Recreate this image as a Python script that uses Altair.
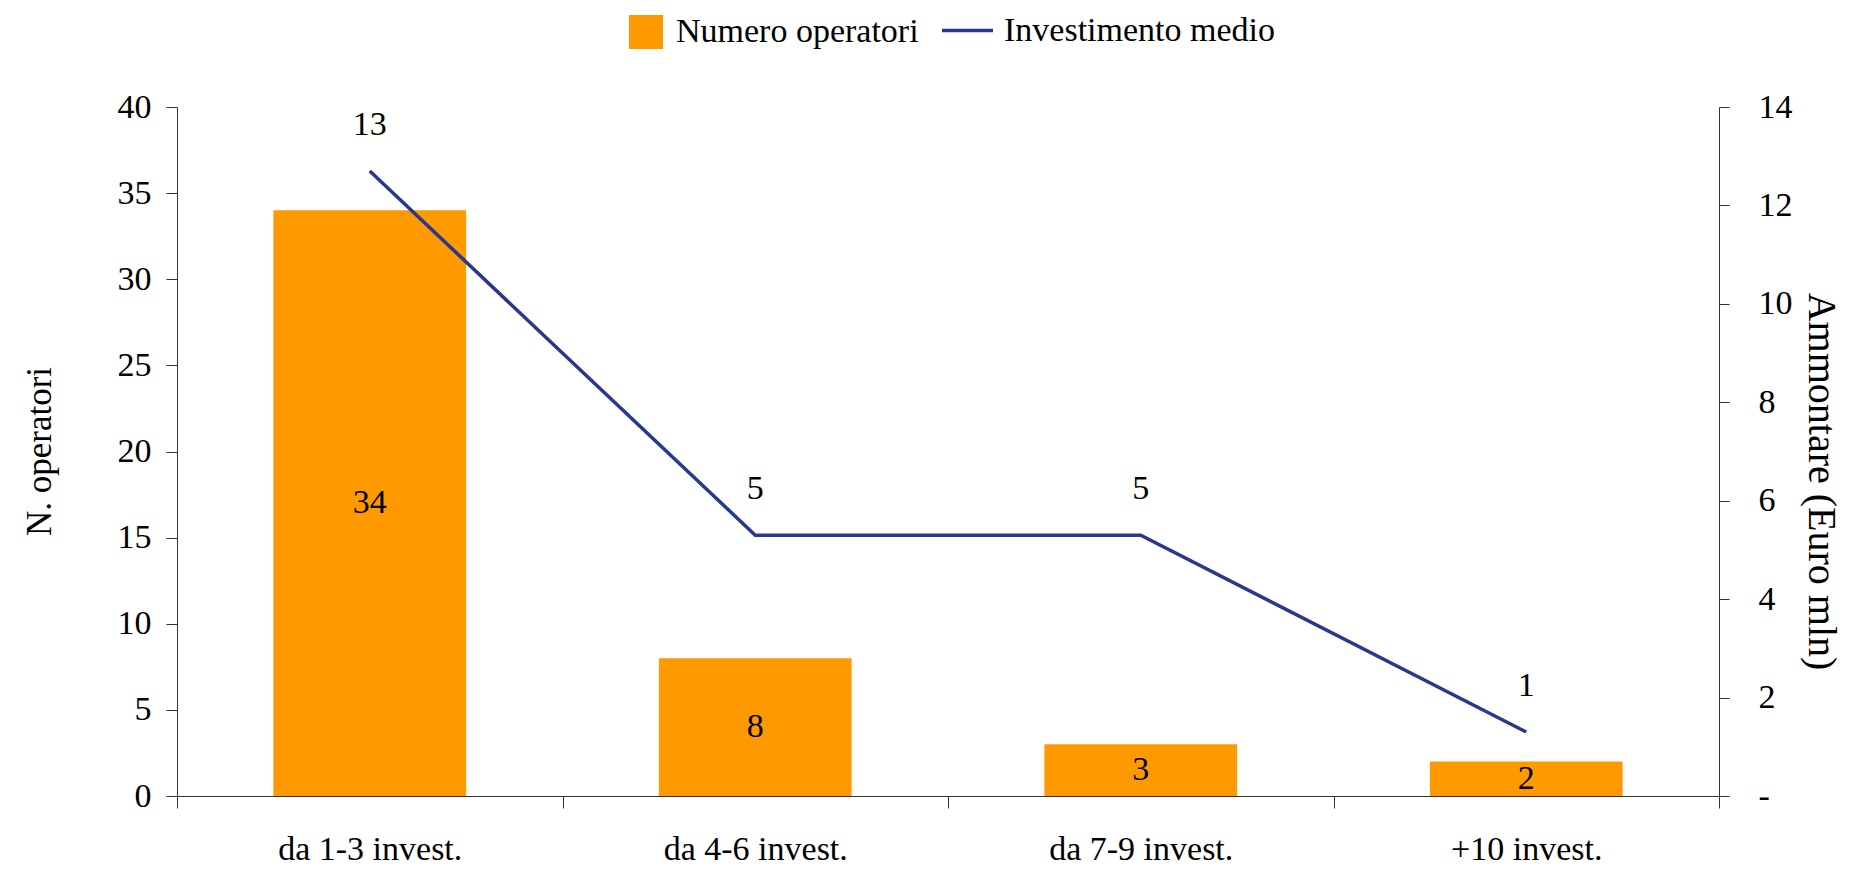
import altair as alt
import pandas as pd

categories = ["da 1-3 invest.", "da 4-6 invest.", "da 7-9 invest.", "+10 invest."]
operatori = [34, 8, 3, 2]
investimento = [12.7, 5.3, 5.3, 1.3]
left_ticks = [0, 5, 10, 15, 20, 25, 30, 35, 40]
right_ticks = [0, 2, 4, 6, 8, 10, 12, 14]

df = pd.DataFrame({
    "cat": categories,
    "operatori": operatori,
    "investimento": investimento,
    "s1": ["Numero operatori"] * len(categories),
    "s2": ["Investimento medio"] * len(categories),
})

FONT = "Liberation Serif, Times New Roman, DejaVu Serif, serif"
FS = 34
AXC = "#333333"

x_enc = alt.X(
    "cat:N", sort=categories,
    scale=alt.Scale(paddingInner=0, paddingOuter=0),
    axis=alt.Axis(title=None, tickBand="extent", labelAngle=0, labelFont=FONT,
                  labelFontSize=FS, labelColor="black", labelPadding=24, tickSize=12,
                  labelLimit=500, tickColor=AXC, domainColor=AXC, grid=False),
)

left_scale = alt.Scale(domain=[0, 40], nice=False)
left_axis = alt.Axis(title="N. operatori", values=left_ticks, tickSize=11, labelPadding=15,
                     labelFont=FONT, labelFontSize=FS, labelColor="black",
                     tickColor=AXC, domainColor=AXC, grid=False,
                     titleFont=FONT, titleFontSize=35, titleFontWeight="normal",
                     titleColor="black", titleX=-138, titleY=344, titleAngle=270,
                     titleAlign="center", titleBaseline="middle", titleLimit=600)

right_scale = alt.Scale(domain=[0, 14], nice=False)
right_axis = alt.Axis(orient="right", title="Ammontare (Euro mln)", values=right_ticks,
                      labelExpr="datum.value == 0 ? '-' : datum.label",
                      tickSize=10, labelPadding=29, labelFont=FONT, labelFontSize=FS,
                      labelColor="black", tickColor=AXC, domainColor=AXC, grid=False,
                      titleFont=FONT, titleFontSize=40, titleFontWeight="normal",
                      titleColor="black", titleX=101, titleY=374, titleAngle=90,
                      titleAlign="center", titleBaseline="middle", titleLimit=700)

base = alt.Chart(df)

bars = base.mark_bar(width=alt.RelativeBandSize(0.5)).encode(
    x=x_enc,
    y=alt.Y("operatori:Q", scale=left_scale, axis=left_axis),
    color=alt.Color("s1:N", scale=alt.Scale(domain=["Numero operatori"], range=["#FF9900"]),
                    legend=alt.Legend(title=None, orient="none", legendX=452, legendY=-92,
                                      symbolType="square", symbolSize=1156, symbolStrokeWidth=0,
                                      labelFont=FONT, labelFontSize=FS, labelColor="black",
                                      labelOffset=13, labelLimit=500, padding=0)),
)

bar_text = base.transform_calculate(mid="datum.operatori / 2").mark_text(
    font=FONT, fontSize=FS, color="black", baseline="middle", align="center"
).encode(
    x=x_enc,
    y=alt.Y("mid:Q", scale=left_scale, axis=left_axis),
    text=alt.Text("operatori:Q"),
)

line = base.mark_line(strokeWidth=3.5).encode(
    x=x_enc,
    y=alt.Y("investimento:Q", scale=right_scale, axis=right_axis),
    stroke=alt.Stroke("s2:N", scale=alt.Scale(domain=["Investimento medio"], range=["#29388F"]),
                      legend=alt.Legend(title=None, orient="none", legendX=763, legendY=-104,
                                        symbolType="stroke", symbolSize=2601,
                                        symbolStrokeWidth=3.5, labelFont=FONT,
                                        labelFontSize=FS, labelColor="black",
                                        labelOffset=9, labelLimit=500, padding=0)),
)

line_text = base.mark_text(
    font=FONT, fontSize=FS, color="black", baseline="middle", align="center", dy=-46
).encode(
    x=x_enc,
    y=alt.Y("investimento:Q", scale=right_scale, axis=right_axis),
    text=alt.Text("investimento:Q", format=".0f"),
)

left_group = alt.layer(bars, bar_text)
right_group = alt.layer(line, line_text)

chart = alt.layer(left_group, right_group).resolve_scale(
    y="independent", color="independent", stroke="independent"
).properties(
    width=1542, height=689,
    padding={"left": 169, "top": 99, "right": 125, "bottom": 71},
    autosize="none", background="white",
).configure_view(stroke=None)

chart.save("out.html", embed_options={"renderer": "svg", "actions": False})
